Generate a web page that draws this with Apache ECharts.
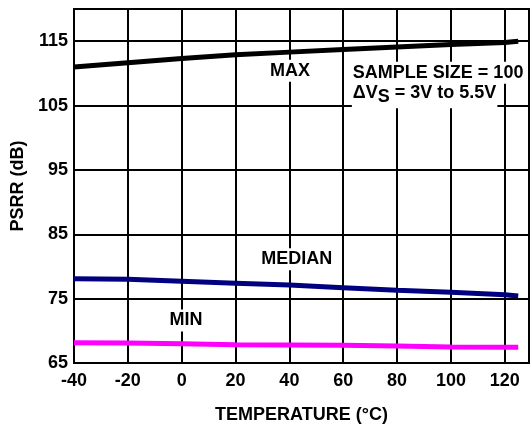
<!DOCTYPE html>
<html>
<head>
<meta charset="utf-8">
<script src="https://cdn.jsdelivr.net/npm/echarts@6/dist/echarts.min.js"></script>
<style>
  html, body { margin: 0; padding: 0; background: #fff; }
  #psrr { width: 531px; height: 430px; }
</style>
</head>
<body>
<div id="psrr"></div>
<script>
// temperatures (°C) where the curves were read
var temps = [-40, -20, 0, 20, 40, 60, 80, 100, 120, 125];
var maxVals = [111.0, 111.65, 112.3, 112.9, 113.3, 113.7, 114.1, 114.5, 114.8, 115.0];
var medianVals = [78.1, 78.0, 77.7, 77.4, 77.1, 76.7, 76.3, 76.0, 75.6, 75.4];
var minVals = [68.15, 68.1, 68.0, 67.85, 67.8, 67.75, 67.65, 67.5, 67.45, 67.45];

// labels placed in data coords: [text, temp, dB, align]
var notes = [
    ['MAX', 40.2, 110.4, 'center'],
    ['MEDIAN', 42.7, 81.1, 'center'],
    ['MIN', 1.6, 71.6, 'center'],
    ['SAMPLE SIZE = 100', 63.2, 110.1, 'left'],
    ['{a|ΔV}{s|S}{a| = 3V to 5.5V}', 63.2, 106.9, 'left']
];

var font = '"Liberation Sans", Arial, sans-serif';
var fs = 18;

function pairs(ys) {
    return temps.map(function (t, i) { return [t, ys[i]]; });
}

var option = {
    animation: false,
    grid: {
        left: 74,
        right: 2,
        top: 9,
        bottom: 67,
        show: true,
        borderColor: '#000',
        borderWidth: 2
    },
    xAxis: {
        type: 'value',
        min: -40,
        max: 129,
        interval: 20,
        name: 'TEMPERATURE (°C)',
        nameLocation: 'middle',
        nameGap: 43,
        nameTextStyle: { fontFamily: font, fontWeight: 'bold', fontSize: fs, color: '#000' },
        axisLine: { lineStyle: { color: '#000', width: 2 } },
        axisTick: { show: false },
        axisLabel: { showMaxLabel: false, margin: 9, fontFamily: font, fontWeight: 'bold', fontSize: fs, color: '#000' },
        splitLine: { show: true, lineStyle: { color: '#000', width: 2 } }
    },
    yAxis: {
        type: 'value',
        min: 65,
        max: 120,
        interval: 10,
        name: 'PSRR (dB)',
        nameLocation: 'middle',
        nameGap: 42,
        nameTextStyle: { fontFamily: font, fontWeight: 'bold', fontSize: fs, color: '#000' },
        axisLine: { lineStyle: { color: '#000', width: 2 } },
        axisTick: { show: false },
        axisLabel: { showMaxLabel: false, margin: 6, fontFamily: font, fontWeight: 'bold', fontSize: fs, color: '#000' },
        splitLine: { show: true, lineStyle: { color: '#000', width: 2 } }
    },
    series: [
        {
            name: 'MAX', type: 'line', symbol: 'none', data: pairs(maxVals),
            lineStyle: { color: '#000', width: 5, cap: 'butt' }
        },
        {
            name: 'MEDIAN', type: 'line', symbol: 'none', data: pairs(medianVals),
            lineStyle: { color: '#000080', width: 5, cap: 'butt' }
        },
        {
            name: 'MIN', type: 'line', symbol: 'none', data: pairs(minVals),
            lineStyle: { color: '#ff00ff', width: 5, cap: 'butt' }
        }
    ]
};

var chart = echarts.init(document.getElementById('psrr'));
chart.setOption(option);

var graphics = notes.map(function (n) {
    var p = chart.convertToPixel({ gridIndex: 0 }, [n[1], n[2]]);
    return {
        type: 'text',
        x: p[0],
        y: p[1],
        z: 10,
        style: {
            text: n[0],
            align: n[3],
            verticalAlign: 'middle',
            fontFamily: font,
            fontWeight: 'bold',
            fontSize: fs,
            fill: '#000',
            backgroundColor: '#fff',
            padding: [2, 1, 2, 1],
            rich: {
                a: { fontFamily: font, fontWeight: 'bold', fontSize: fs, color: '#000' },
                s: { fontFamily: font, fontWeight: 'bold', fontSize: fs, color: '#000', padding: [8, 0, 0, 0] }
            }
        }
    };
});
chart.setOption({ graphic: graphics });
</script>
</body>
</html>
